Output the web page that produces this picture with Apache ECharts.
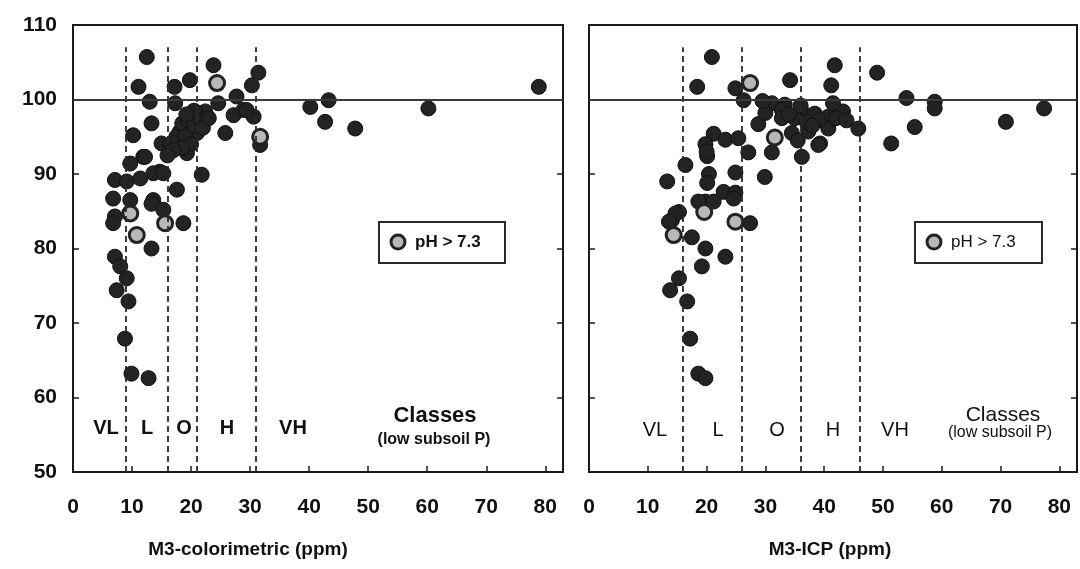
<!DOCTYPE html>
<html><head><meta charset="utf-8">
<script src="https://cdn.jsdelivr.net/npm/echarts@6/dist/echarts.min.js"></script>
<style>html,body{margin:0;padding:0;background:#fff}#c{width:1080px;height:569px}</style>
</head><body><div id="c"></div>
<script>
// ---- data ----
const xTicks = [0, 10, 20, 30, 40, 50, 60, 70, 80];
const yTicks = [50, 60, 70, 80, 90, 100, 110];
const classNames = ['VL', 'L', 'O', 'H', 'VH'];
const colorimetricBounds = [9, 16, 21, 31];
const icpBounds = [16, 26, 36, 46];
const referenceLine = 100;
const legendLabel = 'pH > 7.3';
const classesTitle = 'Classes';
const classesSub = '(low subsoil P)';
const leftTitle = 'M3-colorimetric (ppm)';
const rightTitle = 'M3-ICP (ppm)';

const colorimetricDark = [
 [12.5,105.7],[23.8,104.6],[31.4,103.6],[19.8,102.6],[11.1,101.7],[17.2,101.7],[30.3,101.9],
 [13.0,99.7],[17.3,99.5],[27.7,100.4],[24.6,99.5],[22.4,98.4],[27.2,97.9],[30.6,97.7],[28.9,98.6],[29.4,98.6],
 [13.3,96.8],[18.1,95.7],[21.0,95.5],[25.8,95.5],[31.7,93.9],[10.2,95.2],[15.0,94.1],[19.3,92.8],
 [11.9,92.3],[9.7,91.4],[14.7,90.3],[21.8,89.9],[7.1,89.2],[9.1,89.0],[11.4,89.4],[13.6,90.1],[15.3,90.1],
 [12.2,92.3],[17.6,87.9],[6.8,86.7],[9.7,86.5],[13.6,86.5],[7.1,84.3],[6.8,83.4],[13.3,86.0],[15.3,85.2],
 [18.7,83.4],[13.3,80.0],[7.1,78.9],[8.0,77.6],[9.1,76.0],[7.4,74.4],[9.4,72.9],[8.8,67.9],[9.9,63.2],[12.8,62.6],
 [40.2,99.0],[43.3,99.9],[42.7,97.0],[47.8,96.1],[60.2,98.8],[78.9,101.7],
 [16.5,94.0],[17.5,95.0],[18.5,96.8],[19.0,95.0],[19.5,97.2],[20.0,94.0],[20.5,96.5],[18.5,93.5],
 [21.5,97.5],[22.0,96.2],[17.0,93.2],[16.0,92.5],[23.0,97.5],[20.5,98.5],[19.2,98.0]
];
const colorimetricAlk = [[24.4,102.2],[31.7,95.0],[9.7,84.7],[15.6,83.4],[10.8,81.8]];

const icpDark = [
 [20.9,105.7],[18.4,101.7],[24.9,101.5],[26.3,99.9],[34.2,102.6],[41.2,101.9],[41.8,104.6],[49.0,103.6],
 [31.1,99.5],[33.3,99.3],[32.8,98.6],[36.2,98.4],[38.4,98.1],[40.7,97.7],[43.2,98.4],[45.8,96.1],[40.7,96.1],
 [28.8,96.7],[32.8,97.5],[34.5,95.5],[37.3,95.7],[39.3,94.1],[36.2,92.3],[21.2,95.4],[23.2,94.6],[25.4,94.8],
 [27.1,92.9],[31.1,92.9],[20.1,92.4],[16.4,91.2],[20.4,90.0],[24.9,90.2],[29.9,89.6],[13.3,89.0],[20.1,88.8],
 [22.9,87.6],[24.9,87.5],[19.8,86.3],[18.6,86.3],[21.2,86.3],[24.6,86.7],[27.4,83.4],[14.1,83.8],[15.3,84.9],
 [14.7,84.7],[13.6,83.6],[17.5,81.5],[19.8,80.0],[23.2,78.9],[19.2,77.6],[15.3,76.0],[13.8,74.4],[16.7,72.9],
 [17.2,67.9],[18.6,63.2],[19.8,62.6],
 [54.0,100.2],[58.8,99.7],[58.8,98.8],[55.4,96.3],[51.4,94.1],[70.9,97.0],[77.4,98.8],
 [35.0,97.5],[37.0,97.0],[39.0,97.2],[36.0,99.2],[42.0,97.5],[38.0,96.5],[34.0,98.0],[30.0,98.2],[29.5,99.8],
 [19.8,94.0],[20.0,93.0],[35.5,94.5],[41.5,99.5],[43.8,97.2],[39.0,93.9]
];
const icpAlk = [[27.4,102.2],[31.6,94.9],[19.6,84.9],[24.9,83.6],[14.4,81.8]];

// ---- chart ----
const chart = echarts.init(document.getElementById('c'), null, {renderer: 'canvas'});
const FONT = 'Liberation Sans, Arial, sans-serif';
const INK = '#1a1a1a';

function xAxisCfg(gi) {
  return {
    type: 'value', gridIndex: gi, min: 0, max: 83, interval: 10,
    axisLine: {show: true, onZero: false, lineStyle: {color: INK, width: 2}},
    axisTick: {show: true, inside: true, length: 6, lineStyle: {color: INK, width: 1.5}},
    axisLabel: {show: true, margin: 25, fontFamily: FONT, fontSize: 21, fontWeight: 'bold', color: '#111',
      formatter: v => xTicks.includes(v) ? String(v) : ''},
    splitLine: {show: false}
  };
}
function yAxisCfg(gi, side, labels) {
  return {
    type: 'value', gridIndex: gi, position: side, min: 50, max: 110, interval: 10,
    axisLine: {show: true, onZero: false, lineStyle: {color: INK, width: 2}},
    axisTick: {show: true, inside: true, length: 6, lineStyle: {color: INK, width: 1.5}},
    axisLabel: {show: labels, margin: 16, fontFamily: FONT, fontSize: 21, fontWeight: 'bold', color: '#111',
      formatter: v => yTicks.includes(v) ? String(v) : ''},
    splitLine: {show: false}
  };
}
function guideSeries(xi, yi, bounds) {
  const lines = bounds.map(b => [{coord: [b, 50]}, {coord: [b, 107]}]);
  return {
    type: 'line', xAxisIndex: xi, yAxisIndex: yi, data: [], z: 1, silent: true,
    markLine: {
      silent: true, symbol: ['none', 'none'], animation: false, label: {show: false},
      data: [
        ...lines.map(l => [{...l[0], lineStyle: {type: [6, 4], color: '#2a2a2a', width: 1.8}},
                           {...l[1]}]),
        [{coord: [0, referenceLine], lineStyle: {type: 'solid', color: '#3a3a3a', width: 2}}, {coord: [83, referenceLine]}]
      ]
    }
  };
}
function darkSeries(xi, yi, data) {
  return {type: 'scatter', xAxisIndex: xi, yAxisIndex: yi, data, symbolSize: 15, z: 3,
    itemStyle: {color: '#232323', borderColor: '#111', borderWidth: 1, opacity: 1}};
}
function alkSeries(xi, yi, data) {
  return {type: 'scatter', xAxisIndex: xi, yAxisIndex: yi, data, symbolSize: 15, z: 4,
    itemStyle: {color: '#b8b8b8', borderColor: '#222', borderWidth: 3, opacity: 1}};
}
function txt(x, y, t, size, weight, align) {
  return {type: 'text', x, y, z: 10, style: {text: t, fontFamily: FONT, fontSize: size, fontWeight: weight || 'bold',
    fill: '#111', align: align || 'center', verticalAlign: 'middle'}};
}
function legendBox(x, y, w, h, weight) {
  return [
    {type: 'rect', shape: {x, y, width: w, height: h}, z: 9, style: {fill: '#fff', stroke: '#2a2a2a', lineWidth: 2}},
    {type: 'circle', shape: {cx: x + 19, cy: y + 20, r: 7}, z: 10, style: {fill: '#b8b8b8', stroke: '#222', lineWidth: 3}},
    txt(x + 36, y + 20, legendLabel, 17, weight, 'left')
  ];
}

const option = {
  animation: false,
  backgroundColor: '#fff',
  grid: [
    {left: 73, top: 25, width: 490, height: 447, show: true, borderColor: INK, borderWidth: 2, backgroundColor: 'transparent'},
    {left: 589, top: 25, width: 489, height: 447, show: true, borderColor: INK, borderWidth: 2, backgroundColor: 'transparent'}
  ],
  xAxis: [xAxisCfg(0), xAxisCfg(1)],
  yAxis: [yAxisCfg(0, 'left', true), yAxisCfg(0, 'right', false), yAxisCfg(1, 'left', false), yAxisCfg(1, 'right', false)],
  series: [
    guideSeries(0, 0, colorimetricBounds),
    darkSeries(0, 0, colorimetricDark),
    alkSeries(0, 0, colorimetricAlk),
    guideSeries(1, 2, icpBounds),
    darkSeries(1, 2, icpDark),
    alkSeries(1, 2, icpAlk)
  ],
  graphic: [
    txt(106, 428, classNames[0], 20), txt(147, 428, classNames[1], 20), txt(184, 428, classNames[2], 20),
    txt(227, 428, classNames[3], 20), txt(293, 428, classNames[4], 20),
    txt(435, 416, classesTitle, 22), txt(434, 440, classesSub, 16),
    txt(655, 430, classNames[0], 20, 'normal'), txt(718, 430, classNames[1], 20, 'normal'), txt(777, 430, classNames[2], 20, 'normal'),
    txt(833, 430, classNames[3], 20, 'normal'), txt(895, 430, classNames[4], 20, 'normal'),
    txt(1003, 415, classesTitle, 21, 'normal'), txt(1000, 433, classesSub, 16, 'normal'),
    ...legendBox(379, 222, 126, 41, 'bold'),
    ...legendBox(915, 222, 127, 41, 'normal'),
    txt(248, 550, leftTitle, 19), txt(830, 550, rightTitle, 19)
  ]
};
chart.setOption(option);
</script></body></html>
